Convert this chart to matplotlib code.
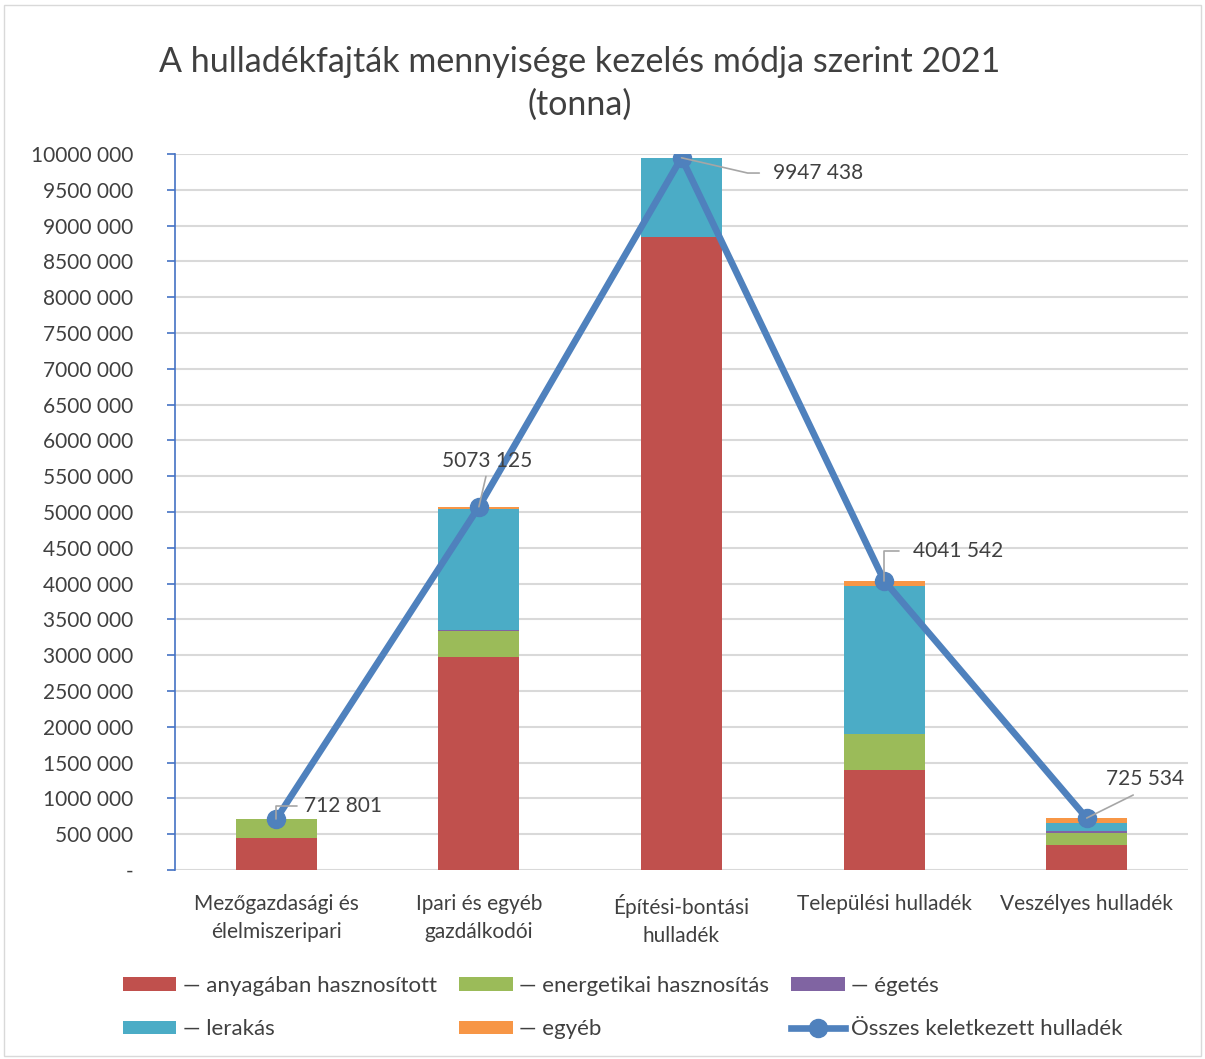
import matplotlib
matplotlib.use("Agg")
import matplotlib.pyplot as plt
import numpy as np
from matplotlib.patches import Rectangle

plt.rcParams['font.family'] = ['Lato', 'DejaVu Sans']

categories = ["Mezőgazdasági és\nélelmiszeripari", "Ipari és egyéb\ngazdálkodói",
              "Építési-bontási\nhulladék", "Települési hulladék", "Veszélyes hulladék"]
anyagaban = [450000, 2980000, 8840000, 1400000, 350000]
energetikai = [262801, 360000, 0, 500000, 165000]
egetes = [0, 5000, 0, 0, 25000]
lerakas = [0, 1690000, 1107438, 2066542, 120000]
egyeb = [0, 38125, 0, 75000, 65534]
osszes = [712801, 5073125, 9947438, 4041542, 725534]
yticks = list(range(0, 10000001, 500000))

series = [("— anyagában hasznosított", anyagaban, "#C0504D"),
          ("— energetikai hasznosítás", energetikai, "#9BBB59"),
          ("— égetés", egetes, "#8064A2"),
          ("— lerakás", lerakas, "#4BACC6"),
          ("— egyéb", egyeb, "#F79646")]

fig = plt.figure(figsize=(12.05, 10.59), dpi=100)
ax = fig.add_axes([175/1205, 1-870/1059, (1188-175)/1205, (870-154)/1059])

x = np.arange(len(categories))
bottom = np.zeros(len(categories))
handles = {}
for label, vals, col in series:
    v = np.array(vals, dtype=float)
    b = ax.bar(x, v, 0.4, bottom=bottom, color=col, label=label, zorder=2)
    handles[label] = b
    bottom += v

line, = ax.plot(x, osszes, color="#4F81BD", lw=4.8, marker="o", ms=13,
                label="Összes keletkezett hulladék", zorder=4)

ax.set_xlim(-0.5, 4.5)
ax.set_ylim(0, 10000000)
ax.set_yticks(yticks)

def fmt(v):
    v = int(v)
    if v == 0:
        return "-"
    return f"{v // 1000} {v % 1000:03d}"

ax.set_yticklabels([fmt(v) for v in yticks])
ax.set_xticks(x)
ax.set_xticklabels(categories, linespacing=1.55)
ax.grid(axis="y", color="#D9D9D9", lw=1.5, zorder=0)
ax.set_axisbelow(True)
for s in ["top", "right", "bottom"]:
    ax.spines[s].set_visible(False)
ax.spines["left"].set_color("#4472C4")
ax.spines["left"].set_linewidth(1.2)
ax.tick_params(axis="y", colors="#4472C4", length=6, width=1.2, labelcolor="#404040",
               labelsize=15, pad=24)
ax.tick_params(axis="x", length=0, labelcolor="#404040", labelsize=15, pad=17)

# data label placement: offset (points), alignment, connector style, relpos
labels_cfg = [
    ((20, 9), "left", "angle,angleA=180,angleB=90,rad=0", (0, 0.5), 3),
    ((6, 33), "center", "arc3,rad=0", (0.5, 0), 2),
    ((66, -11), "left", "angle,angleA=180,angleB=-13,rad=0", (0, 0.5), 8),
    ((21, 21), "left", "angle,angleA=180,angleB=90,rad=0", (0, 0.5), 8),
    ((42, 28), "center", "arc3,rad=0", (0.5, 0), 5),
]
for i, (off, ha, cs, rp, shA) in enumerate(labels_cfg):
    ax.annotate(fmt(osszes[i]), xy=(x[i], osszes[i]), xytext=off, textcoords="offset points",
                ha=ha, va="center", fontsize=15, color="#404040", zorder=5,
                arrowprops=dict(arrowstyle="-", color="#A6A6A6", lw=1.2,
                                shrinkA=shA, shrinkB=0, connectionstyle=cs, relpos=rp))

fig.text(580/1205, 1-62/1059, "A hulladékfajták mennyisége kezelés módja szerint 2021",
         ha="center", va="center", fontsize=24.5, color="#404040")
fig.text(580/1205, 1-105/1059, "(tonna)", ha="center", va="center", fontsize=24.5, color="#404040")

hl = [handles["— anyagában hasznosított"], handles["— lerakás"],
      handles["— energetikai hasznosítás"], handles["— egyéb"], handles["— égetés"], line]
ll = ["— anyagában hasznosított", "— lerakás", "— energetikai hasznosítás", "— egyéb",
      "— égetés", "Összes keletkezett hulladék"]
leg = fig.legend(hl, ll, ncol=3, loc="upper left", bbox_to_anchor=(103/1205, 1-956/1059),
                 frameon=False, fontsize=16, handlelength=2.4, handleheight=0.55,
                 columnspacing=1.0, labelspacing=1.05, handletextpad=0.3,
                 labelcolor="#404040")

fig.add_artist(Rectangle((0.003, 0.003), 0.994, 0.992, transform=fig.transFigure,
                         fill=False, edgecolor="#D9D9D9", lw=1))

fig.savefig("out.png", dpi=100, facecolor="white")
